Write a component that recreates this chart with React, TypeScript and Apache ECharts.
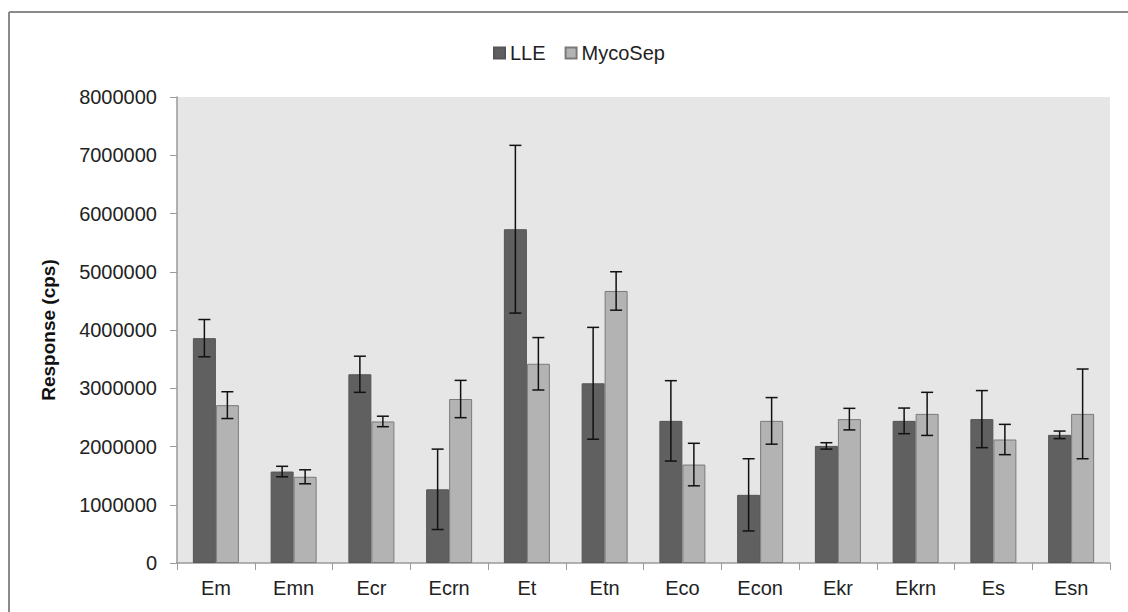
import React, { useEffect, useRef } from "react";
import * as echarts from "echarts";

const categories = ["Em", "Emn", "Ecr", "Ecrn", "Et", "Etn", "Eco", "Econ", "Ekr", "Ekrn", "Es", "Esn"];
const lleValues = [3860000, 1570000, 3240000, 1265000, 5730000, 3085000, 2440000, 1170000, 2010000, 2440000, 2470000, 2200000];
const lleErrors = [320000, 90000, 310000, 690000, 1440000, 960000, 690000, 620000, 55000, 220000, 490000, 65000];
const mycoValues = [2710000, 1480000, 2430000, 2815000, 3420000, 4670000, 1690000, 2440000, 2470000, 2560000, 2120000, 2560000];
const mycoErrors = [230000, 120000, 90000, 320000, 450000, 330000, 365000, 400000, 185000, 370000, 260000, 770000];
const yTicks = [0, 1000000, 2000000, 3000000, 4000000, 5000000, 6000000, 7000000, 8000000];

const FONT = "'Liberation Sans', Arial, sans-serif";
const BAR_W = 23;

function errorSeries(values: number[], errors: number[], offset: number) {
  return {
    type: "custom",
    silent: true,
    z: 5,
    encode: { x: 0, y: [1, 2] },
    data: values.map((v, i) => [i, v - errors[i], v + errors[i]]),
    renderItem: (params: any, api: any) => {
      const idx = api.value(0);
      const lo = api.coord([idx, api.value(1)]);
      const hi = api.coord([idx, api.value(2)]);
      const x = lo[0] + offset;
      const cap = 6;
      const style = { stroke: "#111", lineWidth: 1.5 };
      return {
        type: "group",
        children: [
          { type: "line", shape: { x1: x, y1: lo[1], x2: x, y2: hi[1] }, style },
          { type: "line", shape: { x1: x - cap, y1: hi[1], x2: x + cap, y2: hi[1] }, style },
          { type: "line", shape: { x1: x - cap, y1: lo[1], x2: x + cap, y2: lo[1] }, style },
        ],
      };
    },
  };
}

export default function App() {
  const ref = useRef<HTMLDivElement>(null);
  useEffect(() => {
    if (!ref.current) return;
    const chart = echarts.init(ref.current, null, { renderer: "svg" });
    chart.setOption({
      animation: false,
      backgroundColor: "#ffffff",
      textStyle: { fontFamily: FONT },
      graphic: [
        { type: "line", shape: { x1: 9, y1: 12, x2: 1128, y2: 12 }, style: { stroke: "#8a8a8a", lineWidth: 2 } },
        { type: "line", shape: { x1: 9, y1: 12, x2: 9, y2: 612 }, style: { stroke: "#8a8a8a", lineWidth: 2 } },
      ],
      legend: {
        left: 488,
        top: 38,
        itemWidth: 11,
        itemHeight: 11,
        itemGap: 19,
        icon: "rect",
        textStyle: { fontFamily: FONT, fontSize: 20, color: "#222" },
        data: ["LLE", "MycoSep"],
      },
      grid: {
        left: 177,
        top: 97,
        right: 18,
        bottom: 49,
        show: true,
        backgroundColor: "#e6e6e6",
        borderWidth: 0,
      },
      xAxis: {
        type: "category",
        data: categories,
        axisLine: { lineStyle: { color: "#9a9a9a", width: 1.5 } },
        axisTick: { show: true, length: 7, alignWithLabel: false, lineStyle: { color: "#9a9a9a" } },
        axisLabel: { fontFamily: FONT, fontSize: 20, color: "#222", margin: 15 },
        splitLine: { show: false },
      },
      yAxis: {
        type: "value",
        min: yTicks[0],
        max: yTicks[yTicks.length - 1],
        interval: 1000000,
        name: "Response (cps)",
        nameLocation: "middle",
        nameRotate: 90,
        nameGap: 119,
        nameTextStyle: { fontFamily: FONT, fontSize: 19, fontWeight: "bold", color: "#111" },
        axisLine: { show: true, lineStyle: { color: "#9a9a9a", width: 1.5 } },
        axisTick: { show: true, length: 7, lineStyle: { color: "#9a9a9a" } },
        axisLabel: {
          fontFamily: FONT,
          fontSize: 20,
          color: "#222",
          margin: 20,
          formatter: (v: number) => String(v),
        },
        splitLine: { show: false },
      },
      series: [
        {
          name: "LLE",
          type: "bar",
          data: lleValues,
          barWidth: BAR_W,
          barGap: "0%",
          itemStyle: { color: "#606060", borderColor: "#555555", borderWidth: 1 },
        },
        {
          name: "MycoSep",
          type: "bar",
          data: mycoValues,
          barWidth: BAR_W,
          barGap: "0%",
          itemStyle: { color: "#b3b3b3", borderColor: "#7a7a7a", borderWidth: 1 },
        },
        errorSeries(lleValues, lleErrors, -BAR_W / 2),
        errorSeries(mycoValues, mycoErrors, BAR_W / 2),
      ],
    });
    return () => chart.dispose();
  }, []);
  return (
    <div
      ref={ref}
      style={{ position: "absolute", left: 0, top: 0, width: 1128, height: 612 }}
    />
  );
}
